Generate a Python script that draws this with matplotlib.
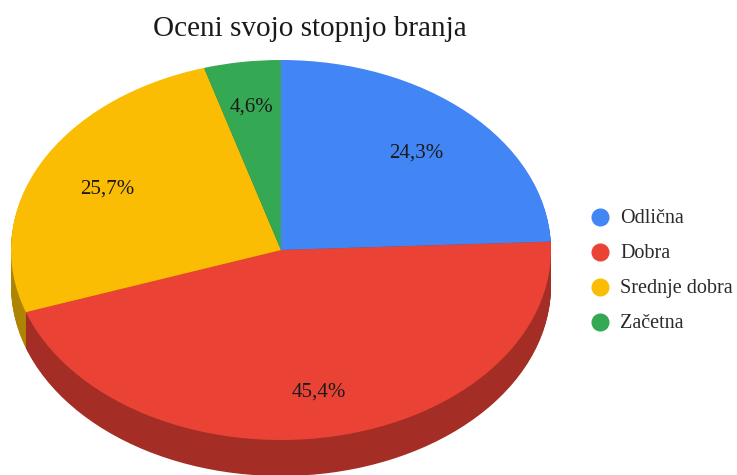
import matplotlib
matplotlib.use('Agg')
import matplotlib.pyplot as plt
from matplotlib.lines import Line2D

labels = ['Odlična', 'Dobra', 'Srednje dobra', 'Začetna']
values = [24.3, 45.4, 25.7, 4.6]
pct_labels = ['24,3%', '45,4%', '25,7%', '4,6%']
colors = ['#4285f4', '#ea4335', '#fbbc04', '#34a853']
dark = ['#2e5dab', '#a42e25', '#b08403', '#24753a']

plt.rcParams['font.family'] = ['Liberation Serif', 'DejaVu Serif']

W, H = 737, 475
cx, cy = 281, 250    # sredina pite v pikslih
rx, ry = 270, 190
depth = 36

fig = plt.figure(figsize=(W / 100, H / 100), dpi=100)
ax = fig.add_axes([0, 0, 1, 1])

# stranica: ista pita veckrat, premaknjena navzdol
for d in range(depth, 0, -1):
    ax.pie(values, colors=dark, startangle=90, counterclock=False,
           center=(0, -d / ry), radius=1)
ax.pie(values, colors=colors, startangle=90, counterclock=False,
       center=(0, 0), radius=1)

ax.set_aspect('auto')
ax.set_xlim(-cx / rx, (W - cx) / rx)
ax.set_ylim(-(H - cy) / ry, cy / ry)
ax.axis('off')

# oznake v pikslih
pct_pos = [(416, 153), (319, 392), (107, 189), (252, 107)]
for txt, (px, py) in zip(pct_labels, pct_pos):
    fig.text(px / W, 1 - py / H, txt, ha='center', va='center', fontsize=15, color='#1a1a1a')

fig.text(310 / W, 1 - 29 / H, 'Oceni svojo stopnjo branja', ha='center', va='center',
         fontsize=21, color='#1a1a1a')

leg_y = [217, 252, 287, 322]
for name, col, py in zip(labels, colors, leg_y):
    fig.add_artist(Line2D([600 / W], [1 - py / H], marker='o', markersize=12, color=col,
                          linestyle='none', transform=fig.transFigure))
    fig.text(620 / W, 1 - (py + 6) / H, name, ha='left', va='baseline', fontsize=14.5, color='#2a2a2a')

plt.savefig('out.png', dpi=100)
